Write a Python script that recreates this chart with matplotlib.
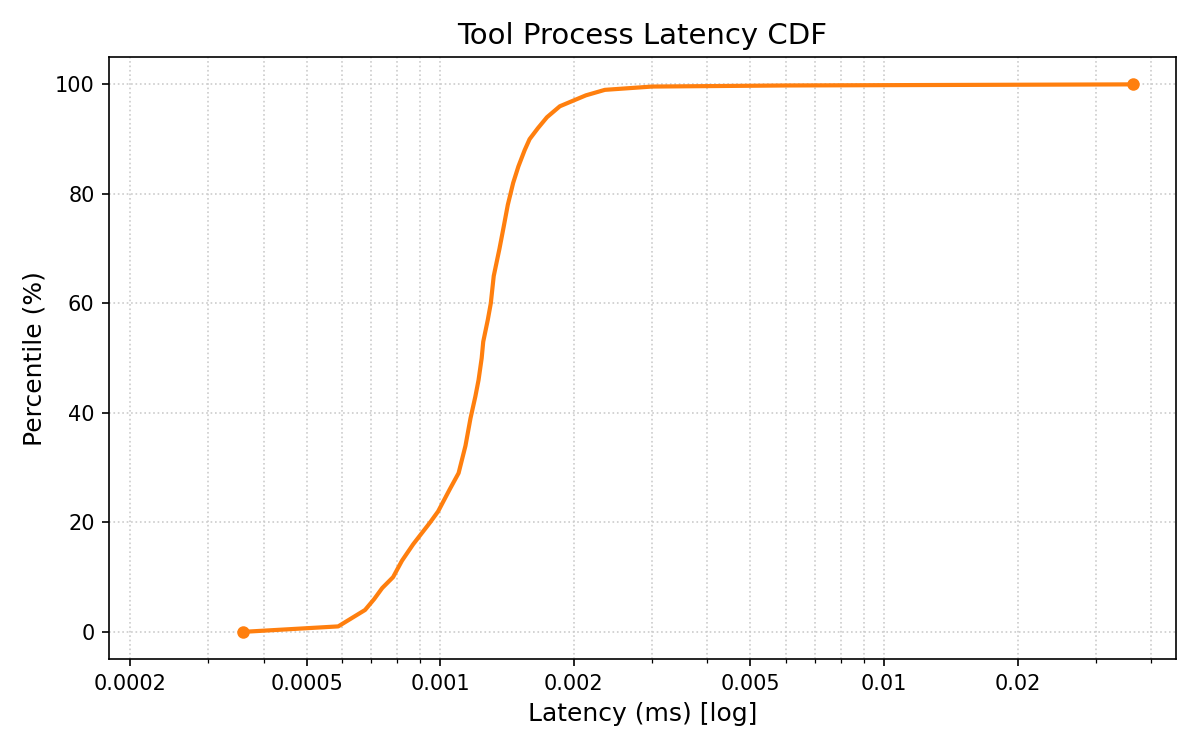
import numpy as np
import matplotlib.pyplot as plt
from matplotlib.ticker import FixedLocator, NullFormatter

# latency (ms) read at each percentile
percentile = [0, 1, 4, 6, 8, 10, 13, 16, 20, 22, 26, 29, 34, 39, 43, 46,
              50, 53, 57, 60, 65, 70, 74, 78, 82, 85, 88, 90, 92, 94, 96,
              97, 98, 99, 99.6, 99.8, 100]
latency = [0.000359, 0.000589, 0.000677, 0.00071, 0.00074, 0.000783,
           0.00082, 0.000869, 0.000949, 0.000989, 0.00105, 0.0011, 0.00114,
           0.00117, 0.0012, 0.00122, 0.00124, 0.00125, 0.00128, 0.0013,
           0.00132, 0.00136, 0.00139, 0.00142, 0.00146, 0.0015, 0.00155,
           0.00159, 0.00166, 0.00174, 0.00186, 0.00199, 0.00213, 0.00235,
           0.003, 0.006, 0.0364]

tick_vals = [0.0002, 0.0005, 0.001, 0.002, 0.005, 0.01, 0.02]
tick_labels = ['0.0002', '0.0005', '0.001', '0.002', '0.005', '0.01', '0.02']

fig, ax = plt.subplots(figsize=(8, 5), dpi=150)
fig.subplots_adjust(left=0.091, right=0.98, top=0.924, bottom=0.121)

ax.plot(latency, percentile, color='#ff7f0e', linewidth=2)
ax.plot([latency[0], latency[-1]], [percentile[0], percentile[-1]], 'o',
        color='#ff7f0e', markersize=5)

ax.set_xscale('log')
ax.set_xlim(latency[0] * 0.5, latency[-1] * 1.25)
ax.xaxis.set_major_locator(FixedLocator(tick_vals))
ax.set_xticklabels(tick_labels)
ax.xaxis.set_minor_formatter(NullFormatter())

ax.grid(True, which='both', linestyle=':', color='#cccccc', linewidth=0.8)

ax.set_title('Tool Process Latency CDF', fontsize=14)
ax.set_xlabel('Latency (ms) [log]', fontsize=12)
ax.set_ylabel('Percentile (%)', fontsize=12)

plt.savefig('out.png')
